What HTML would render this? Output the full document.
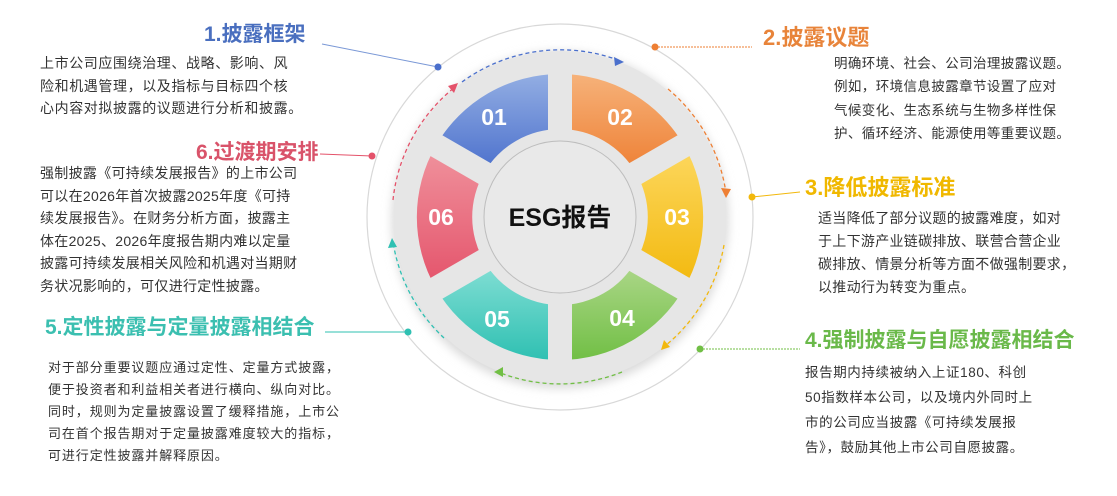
<!DOCTYPE html>
<html><head><meta charset="utf-8"><style>
body{margin:0;width:1117px;height:496px;background:#fff;overflow:hidden;position:relative;font-family:"Liberation Sans","Noto Sans CJK SC",sans-serif}
.t{position:absolute;font-weight:bold;white-space:nowrap;line-height:1}
.p{position:absolute;white-space:nowrap;color:#333;font-size:14px;line-height:22.5px}
</style></head><body>
<svg width="1117" height="496" style="position:absolute;left:0;top:0">
<defs>
<linearGradient id="g1" x1="0" y1="0" x2="0" y2="1"><stop offset="0" stop-color="#93aee3"/><stop offset="1" stop-color="#4a6fcc"/></linearGradient>
<linearGradient id="g2" x1="0" y1="0" x2="0" y2="1"><stop offset="0" stop-color="#f6b27a"/><stop offset="1" stop-color="#ee7f33"/></linearGradient>
<linearGradient id="g3" x1="0" y1="0" x2="0" y2="1"><stop offset="0" stop-color="#fdd860"/><stop offset="1" stop-color="#f2b80c"/></linearGradient>
<linearGradient id="g4" x1="0" y1="0" x2="0" y2="1"><stop offset="0" stop-color="#afd88c"/><stop offset="1" stop-color="#71bf45"/></linearGradient>
<linearGradient id="g5" x1="0" y1="0" x2="0" y2="1"><stop offset="0" stop-color="#86e0d6"/><stop offset="1" stop-color="#2fc0b2"/></linearGradient>
<linearGradient id="g6" x1="0" y1="0" x2="0" y2="1"><stop offset="0" stop-color="#f0949e"/><stop offset="1" stop-color="#e4526a"/></linearGradient>
<filter id="sh" x="-20%" y="-20%" width="140%" height="140%"><feGaussianBlur stdDeviation="5"/></filter>
</defs>
<circle cx="560" cy="217" r="193" fill="none" stroke="#d8d8d8" stroke-width="1.2"/>
<circle cx="560" cy="220" r="168" fill="#d8d8d8" filter="url(#sh)"/>
<circle cx="560" cy="217" r="166" fill="#e6e6e6"/>
<g>
<path d="M560 74 A143 143 0 0 0 436 145.5 L484 173 A88 88 0 0 1 560 129 Z" fill="url(#g1)"/>
<path d="M560 74 A143 143 0 0 1 684 145.5 L636 173 A88 88 0 0 0 560 129 Z" fill="url(#g2)"/>
<path d="M684 145.5 A143 143 0 0 1 684 288.5 L636 261 A88 88 0 0 0 636 173 Z" fill="url(#g3)"/>
<path d="M684 288.5 A143 143 0 0 1 560 360 L560 305 A88 88 0 0 0 636 261 Z" fill="url(#g4)"/>
<path d="M560 360 A143 143 0 0 1 436 288.5 L484 261 A88 88 0 0 0 560 305 Z" fill="url(#g5)"/>
<path d="M436 288.5 A143 143 0 0 1 436 145.5 L484 173 A88 88 0 0 0 484 261 Z" fill="url(#g6)"/>
</g>
<g stroke="#e6e6e6" stroke-width="24">
<line x1="560" y1="60" x2="560" y2="374"/>
<line x1="424" y1="138.5" x2="696" y2="295.5"/>
<line x1="424" y1="295.5" x2="696" y2="138.5"/>
</g>
<circle cx="560" cy="217" r="76" fill="#e9e9e9" stroke="#bdbdbd" stroke-width="1"/>
<text x="560" y="226" text-anchor="middle" font-family="Liberation Sans,Noto Sans CJK SC,sans-serif" font-weight="bold" font-size="25" fill="#111">ESG报告</text>
<g font-family="Liberation Sans,sans-serif" font-weight="bold" font-size="23" fill="#fff" text-anchor="middle">
<text x="494" y="125">01</text><text x="620" y="125">02</text><text x="677" y="225">03</text>
<text x="622" y="326">04</text><text x="497" y="327">05</text><text x="441" y="225">06</text>
</g>
<g fill="none" stroke-width="1.3" stroke-dasharray="4 3">
<path d="M462 82 A167 167 0 0 1 618 60" stroke="#4a6fcc"/>
<path d="M668 89 A167 167 0 0 1 726 193" stroke="#ee7f33"/>
<path d="M724 245 A167 167 0 0 1 665 346" stroke="#f2b80c"/>
<path d="M622 372 A167 167 0 0 1 498 372" stroke="#71bf45"/>
<path d="M444 338 A167 167 0 0 1 393 242" stroke="#2fc0b2"/>
<path d="M393 200 A167 167 0 0 1 455 87" stroke="#e4526a"/>
</g>
<g>
<polygon points="624,62 614,57 615,66" fill="#4a6fcc"/>
<polygon points="726,198 721,188 731,189" fill="#ee7f33"/>
<polygon points="661,350 664,340 670,347" fill="#f2b80c"/>
<polygon points="494,372 503,367 503,377" fill="#71bf45"/>
<polygon points="392,238 388,248 397,247" fill="#2fc0b2"/>
<polygon points="458,83 448,86 454,93" fill="#e4526a"/>
</g>
<g stroke-width="1">
<line x1="322" y1="44" x2="438" y2="67" stroke="#7a98d6"/><circle cx="438" cy="67" r="3.5" fill="#4a6fcc"/>
<line x1="320" y1="154" x2="372" y2="156" stroke="#e4526a"/><circle cx="372" cy="156" r="3.5" fill="#e4526a"/>
<line x1="325" y1="332" x2="408" y2="332" stroke="#2fc0b2"/><circle cx="408" cy="332" r="3.5" fill="#2fc0b2"/>
<line x1="655" y1="47" x2="752" y2="47" stroke="#ee7f33" stroke-dasharray="2 1"/><circle cx="655" cy="47" r="3.5" fill="#ee7f33"/>
<line x1="752" y1="197" x2="800" y2="192" stroke="#f2b80c"/><circle cx="752" cy="197" r="3.5" fill="#f2b80c"/>
<line x1="700" y1="349" x2="800" y2="349" stroke="#71bf45" stroke-dasharray="2 1"/><circle cx="700" cy="349" r="3.5" fill="#71bf45"/>
</g>
</svg>

<div class="t" style="left:204px;top:24px;font-size:21px;color:#4a6fbf">1.披露框架</div>
<div class="p" style="left:40px;top:52px;letter-spacing:0.6px">上市公司应围绕治理、战略、影响、风<br>险和机遇管理，以及指标与目标四个核<br>心内容对拟披露的议题进行分析和披露。</div>

<div class="t" style="left:196px;top:142px;font-size:21px;color:#d9536a">6.过渡期安排</div>
<div class="p" style="left:40px;top:162px;letter-spacing:0.3px">强制披露《可持续发展报告》的上市公司<br>可以在2026年首次披露2025年度《可持<br>续发展报告》。在财务分析方面，披露主<br>体在2025、2026年度报告期内难以定量<br>披露可持续发展相关风险和机遇对当期财<br>务状况影响的，可仅进行定性披露。</div>

<div class="t" style="left:45px;top:317px;font-size:21px;color:#3bbfb0">5.定性披露与定量披露相结合</div>
<div class="p" style="left:48px;top:357px;font-size:13px;letter-spacing:0.9px;line-height:22px">对于部分重要议题应通过定性、定量方式披露，<br>便于投资者和利益相关者进行横向、纵向对比。<br>同时，规则为定量披露设置了缓释措施，上市公<br>司在首个报告期对于定量披露难度较大的指标，<br>可进行定性披露并解释原因。</div>

<div class="t" style="left:763px;top:27px;font-size:22px;color:#e8843a">2.披露议题</div>
<div class="p" style="left:834px;top:52px;font-size:13.5px;letter-spacing:0.4px;line-height:23.3px">明确环境、社会、公司治理披露议题。<br>例如，环境信息披露章节设置了应对<br>气候变化、生态系统与生物多样性保<br>护、循环经济、能源使用等重要议题。</div>

<div class="t" style="left:805px;top:177px;font-size:22px;color:#f0b800">3.降低披露标准</div>
<div class="p" style="left:818px;top:207px;letter-spacing:0.3px;line-height:23px">适当降低了部分议题的披露难度，如对<br>于上下游产业链碳排放、联营合营企业<br>碳排放、情景分析等方面不做强制要求，<br>以推动行为转变为重点。</div>

<div class="t" style="left:805px;top:330px;font-size:21px;color:#6ab94a">4.强制披露与自愿披露相结合</div>
<div class="p" style="left:805px;top:360px;font-size:13.5px;letter-spacing:0.6px;line-height:25px">报告期内持续被纳入上证180、科创<br>50指数样本公司，以及境内外同时上<br>市的公司应当披露《可持续发展报<br>告》，鼓励其他上市公司自愿披露。</div>
</body></html>
